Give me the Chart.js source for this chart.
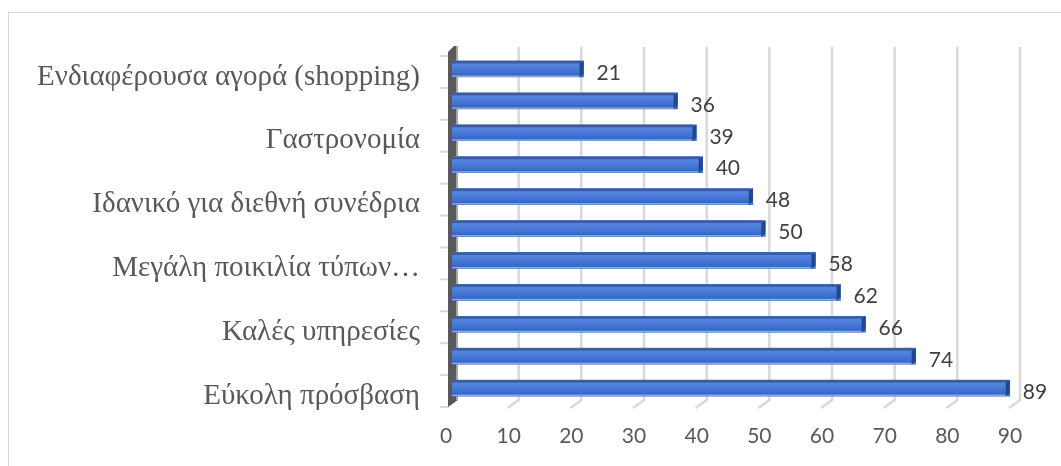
<!DOCTYPE html>
<html><head><meta charset="utf-8">
<script src="https://cdn.jsdelivr.net/npm/chart.js@4"></script>
<style>
html,body{margin:0;padding:0;background:#fff;overflow:hidden}
#frame{position:absolute;left:8px;top:12px;width:1100px;height:500px;border:1.5px solid #d9d9d9;box-sizing:border-box}
canvas{position:absolute;left:0;top:0}
</style></head><body>
<div id="frame"></div>
<canvas id="c" width="1061" height="466"></canvas>
<script>
const categories = ["Ενδιαφέρουσα αγορά (shopping)", "", "Γαστρονομία", "", "Ιδανικό για διεθνή συνέδρια", "", "Μεγάλη ποικιλία τύπων…", "", "Καλές υπηρεσίες", "", "Εύκολη πρόσβαση"];
const values = [21, 36, 39, 40, 48, 50, 58, 62, 66, 74, 89];
const xTicks = [0, 10, 20, 30, 40, 50, 60, 70, 80, 90];

const deco = {
  id: 'deco',
  beforeDatasetsDraw(chart) {
    const {ctx, chartArea: a, scales: {x, y}} = chart;
    ctx.save();
    ctx.strokeStyle = '#d9d9d9'; ctx.lineWidth = 2.5; ctx.lineCap = 'butt';
    xTicks.forEach(v => {
      if (v === 0) return;
      const px = x.getPixelForValue(v);
      ctx.beginPath();
      ctx.moveTo(px + 4, a.top - 6);
      ctx.lineTo(px + 4, a.bottom - 4);
      ctx.lineTo(px - 7, a.bottom + 4);
      ctx.stroke();
    });
    ctx.lineWidth = 2;
    for (let i = 0; i <= categories.length; i++) {
      const yy = y.getPixelForValue(i - 0.5) + 3;
      ctx.beginPath(); ctx.moveTo(a.left - 12, yy); ctx.lineTo(a.left - 3, yy); ctx.stroke();
    }
    ctx.fillStyle = '#595959';
    ctx.beginPath();
    ctx.moveTo(a.left - 4, a.top - 1);
    ctx.lineTo(a.left + 2, a.top - 7);
    ctx.lineTo(a.left + 6, a.top - 7);
    ctx.lineTo(a.left + 6, a.bottom - 4);
    ctx.lineTo(a.left - 4, a.bottom + 3);
    ctx.closePath(); ctx.fill();
    ctx.fillStyle = '#a6a6a6';
    ctx.fillRect(a.left + 4, a.top - 7, 2, a.bottom - a.top + 3);
    ctx.restore();
  },
  afterDatasetsDraw(chart) {
    const {ctx} = chart;
    const meta = chart.getDatasetMeta(0);
    ctx.save();
    meta.data.forEach((el, i) => {
      const top = el.y - el.height / 2, bot = el.y + el.height / 2;
      const x0 = el.base, x1 = el.x;
      const g = ctx.createLinearGradient(0, top, 0, bot);
      g.addColorStop(0, '#5b8be2');
      g.addColorStop(0.5, '#4a7bd8');
      g.addColorStop(1, '#2f60c2');
      ctx.fillStyle = g;
      ctx.fillRect(x0, top, x1 - x0 - 3, bot - top);
      ctx.fillStyle = '#3b5b9c';
      ctx.fillRect(x0, top, x1 - x0 - 2, 2.5);
      ctx.fillStyle = '#8eaadc';
      ctx.fillRect(x0, bot - 1.5, x1 - x0 - 4, 1.5);
      ctx.fillStyle = '#24468c';
      ctx.beginPath();
      ctx.moveTo(x1 - 4, top + 2.5);
      ctx.lineTo(x1, top);
      ctx.lineTo(x1, bot - 3);
      ctx.lineTo(x1 - 4, bot);
      ctx.closePath(); ctx.fill();
      ctx.fillStyle = '#404040';
      ctx.font = '21px Lato';
      ctx.textAlign = 'left'; ctx.textBaseline = 'middle';
      ctx.fillText(String(values[i]), x1 + 13, el.y + 4);
    });
    ctx.restore();
  }
};

new Chart(document.getElementById('c'), {
  type: 'bar',
  data: {
    labels: categories,
    datasets: [{ data: values, backgroundColor: '#4472c4', barThickness: 16 }]
  },
  options: {
    indexAxis: 'y',
    responsive: false,
    animation: false,
    devicePixelRatio: 1,
    layout: { padding: { top: 53, right: 45, left: 0, bottom: 0 } },
    plugins: { legend: { display: false }, tooltip: { enabled: false } },
    scales: {
      x: {
        min: 0, max: 90,
        afterBuildTicks(s) { s.ticks = xTicks.map(v => ({ value: v })); },
        afterFit(s) { s.height = 62; },
        grid: { display: false, drawTicks: false },
        border: { display: false },
        ticks: { color: '#595959', font: { family: 'Lato', size: 21 }, padding: 20, labelOffset: -6, maxRotation: 0 }
      },
      y: {
        afterFit(s) { s.width = 452; },
        grid: { display: false, drawTicks: false },
        border: { display: false },
        ticks: { autoSkip: false, color: '#595959', font: { family: 'Liberation Serif', size: 29 }, padding: 32, labelOffset: 8 }
      }
    }
  },
  plugins: [deco]
});
</script>
</body></html>
